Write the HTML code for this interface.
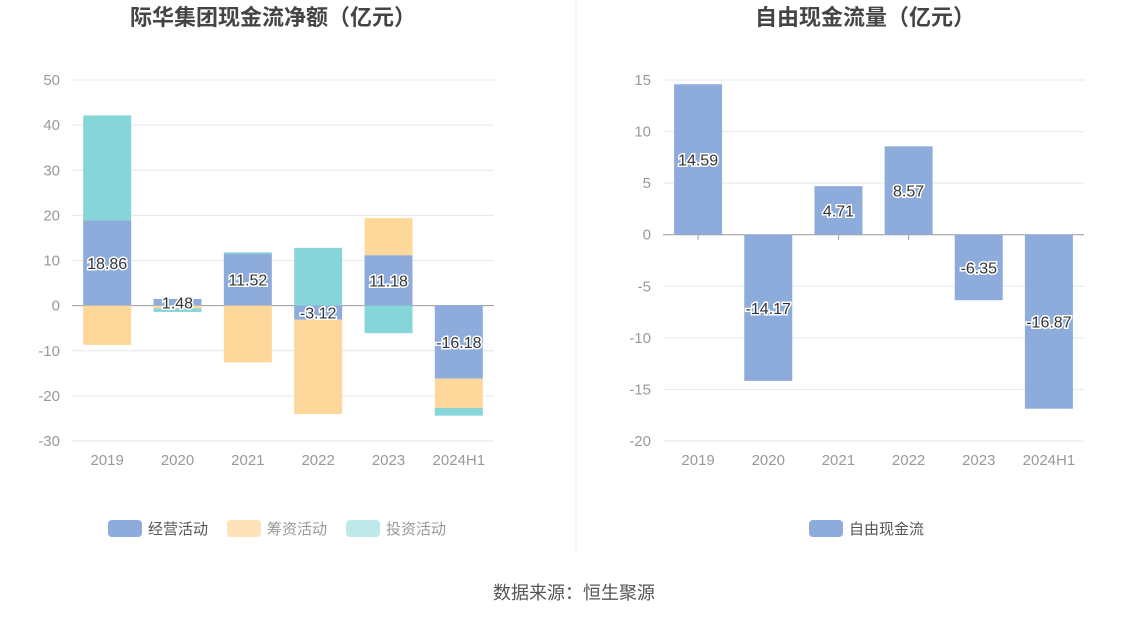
<!DOCTYPE html>
<html><head><meta charset="utf-8"><style>
body{margin:0;background:#fff;font-family:"Liberation Sans","Noto Sans CJK SC",sans-serif;}
svg text{font-family:"Liberation Sans","Noto Sans CJK SC",sans-serif;}
</style></head><body>
<svg id="c" width="1148" height="619">
<line x1="576" y1="0" x2="576" y2="550" stroke="#eee"/>
<text x="273" y="25" text-anchor="middle" font-size="22" font-weight="bold" fill="#444">际华集团现金流净额（亿元）</text>
<text x="865" y="25" text-anchor="middle" font-size="22" font-weight="bold" fill="#444">自由现金流量（亿元）</text>
<g id="L"></g><g id="R"></g>
<g>
<rect x="108" y="520" width="34" height="17" rx="4" fill="#8eacdb"/>
<text x="148" y="534" font-size="15" fill="#555">经营活动</text>
<rect x="227" y="520" width="34" height="17" rx="4" fill="#fde3b7"/>
<text x="267" y="534" font-size="15" fill="#999">筹资活动</text>
<rect x="346" y="520" width="34" height="17" rx="4" fill="#bfe8e8"/>
<text x="386" y="534" font-size="15" fill="#999">投资活动</text>
</g>
<g>
<rect x="809" y="520" width="34" height="17" rx="4" fill="#8eacdb"/>
<text x="849" y="534" font-size="15" fill="#555">自由现金流</text>
</g>
<text x="574" y="599" text-anchor="middle" font-size="18" fill="#555">数据来源：恒生聚源</text>
</svg>
<script>
const categories=["2019","2020","2021","2022","2023","2024H1"];
const operating=[18.86,1.48,11.52,-3.12,11.18,-16.18];
const financing=[-8.7,-0.6,-12.6,-20.9,8.2,-6.5];
const investing=[23.3,-0.8,0.3,12.8,-6.1,-1.7];
const leftTicks=[50,40,30,20,10,0,-10,-20,-30];
const fcf=[14.59,-14.17,4.71,8.57,-6.35,-16.87];
const rightTicks=[15,10,5,0,-5,-10,-15,-20];
const NS="http://www.w3.org/2000/svg";
function mk(p,t,a){const e=document.createElementNS(NS,t);for(const k in a)e.setAttribute(k,a[k]);p.appendChild(e);return e;}
function axis(g,x0,x1,ticks){
  const max=ticks[0],min=ticks[ticks.length-1],top=80,bot=441;
  const y=v=>top+(max-v)/(max-min)*(bot-top);
  ticks.forEach(t=>{
    const l=mk(g,'line',{x1:x0,x2:x1,y1:y(t),y2:y(t),stroke:t===0?'#999':'#e6e6ef'});
    
    
    const tx=mk(g,'text',{x:x0-12,y:y(t)+5,'text-anchor':'end','font-size':15,fill:'#999'});tx.textContent=t;
    
    
  });
  const bw=(x1-x0)/categories.length;
  categories.forEach((c,i)=>{
    const tx=mk(g,'text',{x:x0+bw*(i+.5),y:465,'text-anchor':'middle','font-size':15,fill:'#999'});tx.textContent=c;
    
    
  });
  return {y,bw};
}
function label(g,x,yy,t){
  const tx=mk(g,'text',{x:x,y:yy+6,'text-anchor':'middle','font-size':16,fill:'#333',stroke:'#fff','stroke-width':3,'paint-order':'stroke'});tx.textContent=t;
  
  
}
(function(){
  const g=document.getElementById('L'),x0=72,x1=494;const {y,bw}=axis(g,x0,x1,leftTicks);
  const series=[[operating,'#8eacdb','bar-operating'],[financing,'#fed89a','bar-financing'],[investing,'#86d5d8','bar-investing']];
  categories.forEach((c,i)=>{
    let pos=0,neg=0;const cx=x0+bw*(i+.5);
    series.forEach(([arr,col,nm])=>{
      const v=arr[i];let a,b;
      if(v>=0){a=pos;b=pos+v;pos=b;}else{a=neg;b=neg+v;neg=b;}
      const r=mk(g,'rect',{x:cx-24,width:48,y:Math.min(y(a),y(b)),height:Math.abs(y(a)-y(b)),fill:col});
      
      
    });
    label(g,cx,y(operating[i]/2),operating[i].toFixed(2));
  });
})();
(function(){
  const g=document.getElementById('R'),x0=663,x1=1084;const {y,bw}=axis(g,x0,x1,rightTicks);
  categories.forEach((c,i)=>{
    const cx=x0+bw*(i+.5),v=fcf[i];
    const t=mk(g,'line',{x1:cx,x2:cx,y1:y(0),y2:y(0)+5,stroke:'#999'});
    
    
    const r=mk(g,'rect',{x:cx-24,width:48,y:Math.min(y(0),y(v)),height:Math.abs(y(0)-y(v)),fill:'#8eacdb'});
    
    
    label(g,cx,y(v/2),v.toFixed(2));
  });
})();
</script>
</body></html>
